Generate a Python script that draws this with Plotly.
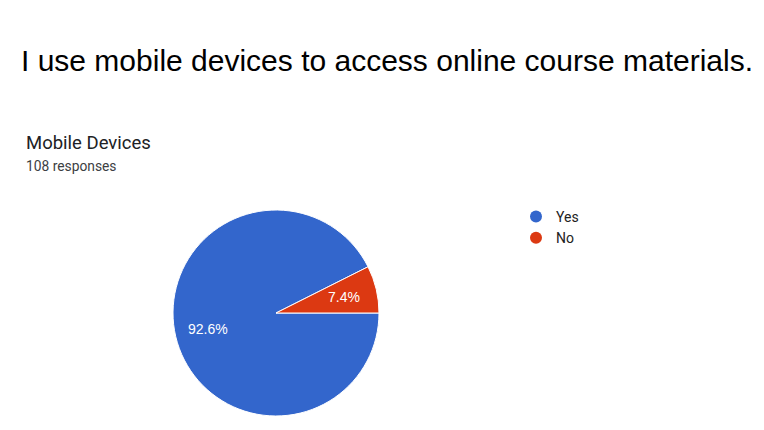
import math
import plotly.graph_objects as go

# Survey responses: "I use mobile devices to access online course materials."
labels = ["Yes", "No"]
counts = [100, 8]
colors = ["#3366CC", "#DC3912"]

title_text = "I use mobile devices to access online course materials."
chart_title = "Mobile Devices"
total = sum(counts)
subtitle = f"{total} responses"

W, H = 764, 430
# pie placement in pixels (left, right, top, bottom)
pie_l, pie_r, pie_t, pie_b = 173, 379, 210, 416
cx, cy = (pie_l + pie_r) / 2, (pie_t + pie_b) / 2
radius = (pie_r - pie_l) / 2

fig = go.Figure()

fig.add_trace(go.Pie(
    labels=labels,
    values=counts,
    sort=False,
    direction="clockwise",
    rotation=90,
    marker=dict(colors=colors, line=dict(color="white", width=1)),
    textinfo="none",
    hoverinfo="label+percent",
    showlegend=False,
    domain=dict(x=[pie_l / W, pie_r / W], y=[1 - pie_b / H, 1 - pie_t / H]),
))

# Legend entries with round markers
for lab, col in zip(labels, colors):
    fig.add_trace(go.Scatter(
        x=[None], y=[None], mode="markers", name=lab,
        marker=dict(symbol="circle", size=13, color=col),
        showlegend=True, hoverinfo="skip",
    ))

# Percentage labels at 0.68 of the radius along each slice's mid-angle
annotations = []
start = 0.0  # clockwise from 3 o'clock, in degrees
for lab, val in zip(labels, counts):
    frac = val / total
    sweep = frac * 360
    mid = math.radians(start + sweep / 2)
    px = cx + 0.68 * radius * math.cos(mid)
    py = cy + 0.68 * radius * math.sin(mid)  # screen y grows downward -> clockwise
    annotations.append(dict(
        text=f"{frac * 100:.1f}%", x=px / W, y=1 - py / H,
        xref="paper", yref="paper", xanchor="center", yanchor="middle",
        showarrow=False,
        font=dict(family="Arial, Liberation Sans", size=14, color="white"),
    ))
    start += sweep

annotations += [
    dict(text=title_text, x=387 / W, y=1 - 61 / H, xref="paper", yref="paper",
         xanchor="center", yanchor="middle", showarrow=False,
         font=dict(family="Liberation Sans, Arial", size=30, color="black")),
    dict(text=chart_title, x=24 / W, y=1 - 143 / H, xref="paper", yref="paper",
         xanchor="left", yanchor="middle", showarrow=False,
         font=dict(family="Roboto, Arial", size=18.5, color="#202124")),
    dict(text=subtitle, x=24 / W, y=1 - 166 / H, xref="paper", yref="paper",
         xanchor="left", yanchor="middle", showarrow=False,
         font=dict(family="Roboto, Arial", size=13.8, color="#3c4043")),
]

fig.update_layout(
    width=W, height=H,
    margin=dict(l=0, r=0, t=0, b=0),
    paper_bgcolor="white", plot_bgcolor="white",
    xaxis=dict(visible=False), yaxis=dict(visible=False),
    legend=dict(
        x=516 / W, y=1 - 201 / H, xanchor="left", yanchor="top",
        font=dict(family="Roboto, Arial", size=14, color="#222222"),
        itemsizing="constant", tracegroupgap=0, itemwidth=30,
        bgcolor="rgba(0,0,0,0)",
    ),
    annotations=annotations,
)

fig.write_html("out.html")
